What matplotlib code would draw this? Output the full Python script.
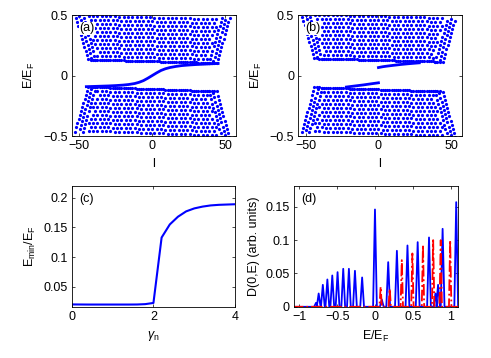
import numpy as np
import matplotlib
matplotlib.use('Agg')
from matplotlib import pyplot as plt

plt.rcParams['font.family'] = ['Liberation Sans', 'DejaVu Sans']
plt.rcParams['font.size'] = 9
plt.rcParams['mathtext.fontset'] = 'custom'
plt.rcParams['mathtext.rm'] = 'Liberation Sans'
plt.rcParams['mathtext.it'] = 'Liberation Sans:italic'

BLUE = (0, 0, 1)
RED = (1, 0, 0)

# ---- (a) / (b): spectrum E/E_F versus l ----
# energies of the bulk rows at l = 0
a_upper_rows = [0.118, 0.15, 0.183, 0.216, 0.249, 0.282, 0.315, 0.348, 0.381, 0.414, 0.447, 0.48]
a_lower_rows = [-0.112, -0.145, -0.178, -0.211, -0.244, -0.277, -0.31, -0.343, -0.376, -0.409,
                -0.442, -0.475]
b_upper_rows = [0.128, 0.16, 0.193, 0.226, 0.259, 0.292, 0.325, 0.358, 0.391, 0.424, 0.457, 0.49]
b_lower_rows = [-0.115, -0.148, -0.181, -0.214, -0.247, -0.28, -0.313, -0.346, -0.379, -0.412,
                -0.445, -0.478]
# tilt of the rows between l = 0 and l = 45
a_tilt = [-0.015, -0.02]
b_tilt = [-0.014, -0.018]
# band edge: |l| reached at |E| = 0.12 and at |E| = 0.5
edge_E = [0.12, 0.5]
edge_l = [44, 53]
# in-gap state of (a)
a_zero_l = [-45, -40, -35, -30, -25, -20, -16, -12, -9, -6, -3, 0, 3, 6, 9, 12, 16, 20, 25, 30, 35, 40, 45]
a_zero_E = [-0.092, -0.09, -0.088, -0.086, -0.083, -0.079, -0.074, -0.066, -0.056, -0.042, -0.022, 0.0,
            0.022, 0.042, 0.056, 0.066, 0.075, 0.082, 0.087, 0.091, 0.094, 0.097, 0.10]
# split in-gap states of (b)
b_up_l = [0, 3, 6, 10, 15, 20, 25, 28]
b_up_E = [0.066, 0.073, 0.078, 0.084, 0.091, 0.097, 0.102, 0.105]
b_lo_l = [-22, -18, -14, -10, -6, -3, 0]
b_lo_E = [-0.095, -0.089, -0.083, -0.077, -0.07, -0.065, -0.06]

# ---- (c): E_min/E_F versus gamma_n ----
gamma_n = [0, 0.2, 0.4, 0.6, 0.8, 1.0, 1.2, 1.4, 1.6, 1.8, 2.0, 2.2, 2.4, 2.6, 2.8, 3.0, 3.2, 3.4, 3.6, 3.8, 4.0]
e_min = [0.0205, 0.0204, 0.0203, 0.0203, 0.0203, 0.0203, 0.0203, 0.0203, 0.0204, 0.021, 0.023,
         0.133, 0.155, 0.168, 0.177, 0.182, 0.185, 0.187, 0.188, 0.1885, 0.189]

# ---- (d): D(0,E) peaks ----
blue_pos = [-0.78, -0.745, -0.69, -0.63, -0.565, -0.495, -0.42, -0.345, -0.265, -0.17,
            0.0, 0.09, 0.175, 0.29, 0.43, 0.565, 0.715, 0.80, 0.835, 0.895, 1.075]
blue_h = [0.006, 0.02, 0.033, 0.041, 0.047, 0.052, 0.057, 0.057, 0.054, 0.044,
          0.146, 0.011, 0.067, 0.084, 0.092, 0.097, 0.104, 0.02, 0.033, 0.117, 0.157]
red_pos = [0.075, 0.195, 0.355, 0.495, 0.635, 0.77, 0.87, 0.995]
red_h = [0.03, 0.027, 0.07, 0.08, 0.093, 0.1, 0.1, 0.1]


def band_dots(rows, tilt, sign):
    L, E = [], []
    for i, e0 in enumerate(rows):
        le = np.interp(abs(e0), edge_E, edge_l)
        step = 1.5 if i == 0 else 3
        for l in np.arange(-45, 46, step) + 1.5 * (i % 2):
            if abs(l) <= le - (1 if i == 0 else 7):
                L.append(l)
                E.append(e0 + tilt * l / 45.0)
    # fan of edge lines
    for k, off in enumerate([0, 2.6, 5.2]):
        for e in np.arange(abs(rows[0]) + 0.016 * (k % 2), 0.5, 0.034):
            le = np.interp(e, edge_E, edge_l) - off
            for s in (-1, 1):
                L.append(s * le)
                E.append(sign * e + tilt * s * le / 45.0)
    return L, E


def spectrum(ax, up, lo, tilt, label):
    for rows, t, sgn in ((up, tilt[0], 1), (lo, tilt[1], -1)):
        L, E = band_dots(rows, t, sgn)
        ax.plot(L, E, '.', color=BLUE, markersize=4.6, markeredgewidth=0)
    ax.set_xlim(-55, 57)
    ax.set_ylim(-0.5, 0.5)
    ax.set_xticks([-50, 0, 50])
    ax.set_yticks([-0.5, 0, 0.5])
    ax.set_yticklabels(['\u22120.5', '0', '0.5'])
    ax.set_xticklabels(['\u221250', '0', '50'])
    ax.set_xlabel('l')
    ax.set_ylabel(r'E/E$_{\rm F}$')
    ax.text(0.045, 0.89, label, transform=ax.transAxes, va='center', zorder=5,
            bbox=dict(facecolor='white', edgecolor='none', pad=0.3))


def peaks(pos, h, w, x0, x1):
    x, y = [x0], [0]
    for p, hh in sorted(zip(pos, h)):
        x += [p - w, p, p + w]
        y += [0, hh, 0]
    x.append(x1)
    y.append(0)
    return x, y


fig = plt.figure(figsize=(4.91, 3.58), dpi=100)
ax1 = fig.add_axes([0.146, 0.620, 0.334, 0.338])
ax2 = fig.add_axes([0.6075, 0.620, 0.3325, 0.338])
ax3 = fig.add_axes([0.146, 0.143, 0.333, 0.338])
ax4 = fig.add_axes([0.599, 0.143, 0.334, 0.337])

spectrum(ax1, a_upper_rows, a_lower_rows, a_tilt, '(a)')
ax1.plot(a_zero_l, a_zero_E, '-', color=BLUE, linewidth=2)
spectrum(ax2, b_upper_rows, b_lower_rows, b_tilt, '(b)')
ax2.plot(b_up_l, b_up_E, '-', color=BLUE, linewidth=2)
ax2.plot(b_lo_l, b_lo_E, '-', color=BLUE, linewidth=2)

ax3.plot(gamma_n, e_min, color=BLUE, linewidth=1.5)
ax3.set_xlim(0, 4)
ax3.set_ylim(0.0165, 0.22)
ax3.set_xticks([0, 2, 4])
ax3.set_yticks([0.05, 0.1, 0.15, 0.2])
ax3.set_yticklabels(['0.05', '0.1', '0.15', '0.2'])
ax3.set_xlabel(r'$\gamma_{\rm n}$')
ax3.set_ylabel(r'$\mathrm{E_{min}/E_F}$')
ax3.text(0.045, 0.89, '(c)', transform=ax3.transAxes, va='center')

xb, yb = peaks(blue_pos, blue_h, 0.025, -1.1, 1.1)
xr, yr = peaks(red_pos, red_h, 0.016, -1.1, 1.1)
ax4.plot(xb, yb, color=BLUE, linewidth=1.3)
ax4.plot(xr, yr, '-.', color=RED, linewidth=1.3)
ax4.set_xlim(-1.07, 1.1)
ax4.set_ylim(0, 0.181)
ax4.set_xticks([-1, -0.5, 0, 0.5, 1])
ax4.set_xticklabels(['\u22121', '\u22120.5', '0', '0.5', '1'])
ax4.set_yticks([0, 0.05, 0.1, 0.15])
ax4.set_yticklabels(['0', '0.05', '0.1', '0.15'])
ax4.set_xlabel(r'E/E$_{\rm F}$')
ax4.set_ylabel('D(0,E) (arb. units)')
ax4.text(0.045, 0.89, '(d)', transform=ax4.transAxes, va='center')

for ax in (ax1, ax2, ax3, ax4):
    ax.tick_params(direction='in', length=2.5, width=0.5, top=True, right=True, pad=3)
    for s in ax.spines.values():
        s.set_linewidth(0.6)

fig.savefig('out.png', dpi=100)
